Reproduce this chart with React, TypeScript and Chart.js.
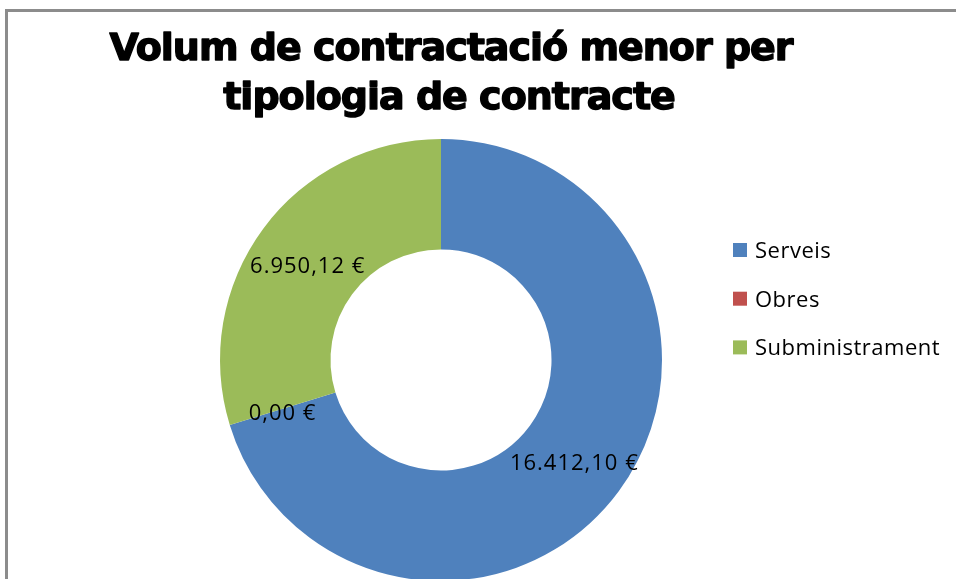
import React, { useEffect, useRef } from "react";
import { Chart, registerables } from "chart.js";

Chart.register(...registerables);

const titleLines = ["Volum de contractació menor per", "tipologia de contracte"];
const categories = ["Serveis", "Obres", "Subministrament"];
const values = [16412.1, 0.0, 6950.12];
const colors = ["#4F81BD", "#C0504D", "#9BBB59"];

function formatEuro(v: number): string {
  const [intPart, dec] = v.toFixed(2).split(".");
  const grouped = intPart.replace(/\B(?=(\d{3})+(?!\d))/g, ".");
  return `${grouped},${dec} €`;
}

const W = 956;
const H = 600;

export default function App() {
  const ref = useRef<HTMLCanvasElement>(null);

  useEffect(() => {
    const canvas = ref.current;
    if (!canvas) return;

    const framePlugin = {
      id: "frame",
      beforeDraw(chart: any) {
        const ctx = chart.ctx;
        ctx.save();
        ctx.fillStyle = "#ffffff";
        ctx.fillRect(0, 0, chart.width, chart.height);
        ctx.fillStyle = "#8c8c8c";
        ctx.fillRect(5, 9, 3, chart.height);
        ctx.fillRect(5, 9, chart.width, 3);
        ctx.restore();
      },
    };

    const titlePlugin = {
      id: "customTitle",
      afterDraw(chart: any) {
        const ctx = chart.ctx;
        ctx.save();
        ctx.fillStyle = "#000000";
        ctx.strokeStyle = "#000000";
        ctx.lineWidth = 1.4;
        ctx.lineJoin = "round";
        ctx.font = "bold 38px 'DejaVu Sans', sans-serif";
        (ctx as any).letterSpacing = "-1px";
        ctx.textAlign = "center";
        ctx.textBaseline = "alphabetic";
        ctx.fillText(titleLines[0], 451, 60);
        ctx.strokeText(titleLines[0], 451, 60);
        ctx.fillText(titleLines[1], 449, 109);
        ctx.strokeText(titleLines[1], 449, 109);
        ctx.restore();
      },
    };

    const legendPlugin = {
      id: "customLegend",
      afterDraw(chart: any) {
        const ctx = chart.ctx;
        ctx.save();
        ctx.font = "22px 'Open Sans', sans-serif";
        (ctx as any).letterSpacing = "0.5px";
        ctx.textAlign = "left";
        ctx.textBaseline = "alphabetic";
        const ds = chart.data.datasets[0];
        (chart.data.labels as string[]).forEach((label, i) => {
          const cy = 250 + i * 48.7;
          ctx.fillStyle = ds.backgroundColor[i];
          ctx.fillRect(733, cy - 7, 14, 14);
          ctx.fillStyle = "#000000";
          ctx.fillText(label, 755, cy + 8);
        });
        ctx.restore();
      },
    };

    const labelPlugin = {
      id: "valueLabels",
      afterDatasetsDraw(chart: any) {
        const ctx = chart.ctx;
        const meta = chart.getDatasetMeta(0);
        ctx.save();
        ctx.font = "22px 'Open Sans', sans-serif";
        (ctx as any).letterSpacing = "1px";
        ctx.fillStyle = "#000000";
        ctx.textAlign = "center";
        ctx.textBaseline = "middle";
        meta.data.forEach((arc: any, i: number) => {
          const p = arc.tooltipPosition();
          ctx.fillText(formatEuro(values[i]), p.x, p.y + 5);
        });
        ctx.restore();
      },
    };

    const chart = new Chart(canvas, {
      type: "doughnut",
      data: {
        labels: categories,
        datasets: [
          {
            data: values,
            backgroundColor: colors,
            borderWidth: 0,
            hoverOffset: 0,
          },
        ],
      },
      options: {
        animation: false,
        responsive: false,
        maintainAspectRatio: false,
        devicePixelRatio: 1,
        cutout: "50%",
        events: [],
        layout: { padding: { left: 220, top: 139, right: 294, bottom: 19 } },
        plugins: {
          legend: { display: false },
          title: { display: false },
          tooltip: { enabled: false },
        },
      },
      plugins: [framePlugin, labelPlugin, titlePlugin, legendPlugin],
    });

    return () => chart.destroy();
  }, []);

  return (
    <canvas
      ref={ref}
      width={W}
      height={H}
      style={{ position: "fixed", left: 0, top: 0, width: W, height: H }}
    />
  );
}
